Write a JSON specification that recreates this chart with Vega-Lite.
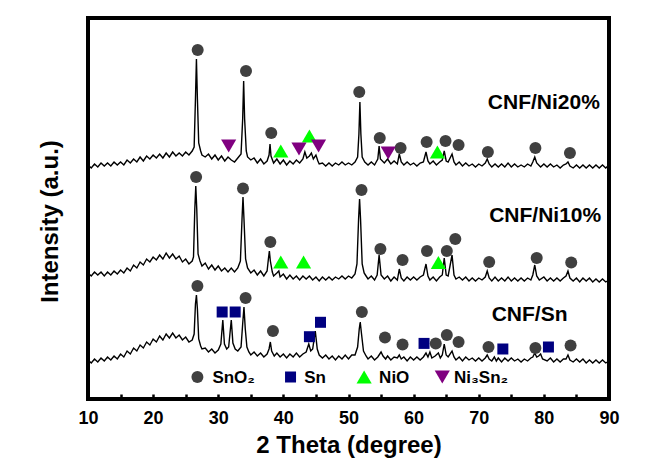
{
  "$schema": "https://vega.github.io/schema/vega-lite/v6.json",
  "width": 521,
  "height": 381,
  "autosize": "none",
  "padding": {"left": 88, "top": 18, "right": 60, "bottom": 74},
  "background": "white",
  "config": {
    "view": {"stroke": "#000", "strokeWidth": 4},
    "font": "Liberation Sans"
  },
  "datasets": {
    "markers": [
        {"x":26.84,"v":349,"p":"SnO2"},{"x":34.26,"v":328,"p":"SnO2"},{"x":38.14,"v":266,"p":"SnO2"},{"x":51.65,"v":307,"p":"SnO2"},{"x":54.8,"v":261,"p":"SnO2"},{"x":58.0,"v":251,"p":"SnO2"},
        {"x":62.0,"v":257,"p":"SnO2"},{"x":64.9,"v":258,"p":"SnO2"},{"x":66.9,"v":254,"p":"SnO2"},{"x":71.4,"v":247,"p":"SnO2"},{"x":78.7,"v":251,"p":"SnO2"},{"x":84.0,"v":246,"p":"SnO2"},
        {"x":31.6,"v":253,"p":"Ni3Sn2"},{"x":42.4,"v":250,"p":"Ni3Sn2"},{"x":45.4,"v":253,"p":"Ni3Sn2"},{"x":56.1,"v":246,"p":"Ni3Sn2"},
        {"x":39.6,"v":248,"p":"NiO"},{"x":44.0,"v":263,"p":"NiO"},{"x":63.65,"v":247,"p":"NiO"},
        {"x":26.6,"v":222,"p":"SnO2"},{"x":33.8,"v":210.5,"p":"SnO2"},{"x":38.0,"v":157,"p":"SnO2"},{"x":52.0,"v":209,"p":"SnO2"},{"x":54.9,"v":150,"p":"SnO2"},{"x":58.3,"v":139,"p":"SnO2"},
        {"x":62.05,"v":148,"p":"SnO2"},{"x":65.1,"v":148,"p":"SnO2"},{"x":66.4,"v":160,"p":"SnO2"},{"x":71.6,"v":137,"p":"SnO2"},{"x":78.9,"v":141,"p":"SnO2"},{"x":84.2,"v":136.5,"p":"SnO2"},
        {"x":39.6,"v":137,"p":"NiO"},{"x":43.1,"v":137,"p":"NiO"},{"x":63.8,"v":136.5,"p":"NiO"},
        {"x":26.8,"v":113,"p":"SnO2"},{"x":34.2,"v":101,"p":"SnO2"},{"x":38.4,"v":68,"p":"SnO2"},{"x":52.05,"v":87,"p":"SnO2"},{"x":55.6,"v":61.5,"p":"SnO2"},{"x":58.3,"v":54.5,"p":"SnO2"},
        {"x":63.4,"v":55.6,"p":"SnO2"},{"x":65.1,"v":64,"p":"SnO2"},{"x":66.9,"v":57,"p":"SnO2"},{"x":71.5,"v":52,"p":"SnO2"},{"x":78.7,"v":51,"p":"SnO2"},{"x":84.1,"v":53.5,"p":"SnO2"},
        {"x":30.6,"v":87,"p":"Sn"},{"x":32.6,"v":87,"p":"Sn"},{"x":44.0,"v":62.3,"p":"Sn"},{"x":45.7,"v":76.7,"p":"Sn"},{"x":61.6,"v":55.6,"p":"Sn"},{"x":73.7,"v":50,"p":"Sn"},{"x":80.7,"v":52,"p":"Sn"},
        {"x":26.8,"v":22,"p":"SnO2"},{"x":41.1,"v":22,"p":"Sn"},{"x":52.4,"v":22,"p":"NiO"},{"x":64.4,"v":22,"p":"Ni3Sn2"}
    ]
  },
  "encoding": {
    "x": {"field": "x", "type": "quantitative", "scale": {"domain": [10, 90], "nice": false, "zero": false},
      "axis": {"values": [10,15,20,25,30,35,40,45,50,55,60,65,70,75,80,85,90],
        "labelExpr": "datum.value % 10 === 0 ? datum.label : ''",
        "labelFlush": false, "labelOverlap": false, "grid": false, "domain": false,
        "tickSize": -5, "tickWidth": 2.5, "tickColor": "#000",
        "labelFont": "Liberation Sans", "labelFontWeight": "bold", "labelFontSize": 18, "labelColor": "#000", "labelPadding": 15,
        "title": "2 Theta (degree)", "titleFont": "Liberation Sans", "titleFontWeight": "bold", "titleFontSize": 24, "titleColor": "#000", "titlePadding": 6}},
    "y": {"field": "v", "type": "quantitative", "scale": {"domain": [0, 381], "nice": false, "zero": false},
      "axis": {"labels": false, "ticks": false, "domain": false, "grid": false,
        "title": "Intensity (a.u.)", "titleFont": "Liberation Sans", "titleFontWeight": "bold", "titleFontSize": 24, "titleColor": "#000", "titlePadding": 26, "titleY": 203}}
  },
  "layer": [
    {
      "data": {"values": [
        {"x":10,"v":234},{"x":10.5,"v":231},{"x":11,"v":235},{"x":11.5,"v":232},{"x":12,"v":236},{"x":12.5,"v":233},{"x":13,"v":236},{"x":13.5,"v":233},{"x":14,"v":237},{"x":14.5,"v":234},
        {"x":15,"v":237},{"x":15.5,"v":234},{"x":16,"v":239},{"x":16.5,"v":236},{"x":17,"v":240},{"x":17.5,"v":237},{"x":18,"v":242},{"x":18.5,"v":238},{"x":19,"v":243},{"x":19.5,"v":240},
        {"x":20,"v":244},{"x":20.5,"v":241},{"x":21,"v":245},{"x":21.5,"v":241},{"x":22,"v":246},{"x":22.5,"v":242},{"x":23,"v":247},{"x":23.5,"v":243},{"x":24,"v":246},{"x":24.5,"v":243},
        {"x":25,"v":247},{"x":25.5,"v":244},{"x":26,"v":248},{"x":26.3,"v":252},{"x":26.5,"v":300},{"x":26.65,"v":340},{"x":26.8,"v":300},{"x":27,"v":256},{"x":27.3,"v":248},{"x":27.5,"v":244},
        {"x":28,"v":242},{"x":28.5,"v":245},{"x":29,"v":240},{"x":29.5,"v":244},{"x":30,"v":239},{"x":30.5,"v":243},{"x":31,"v":238},{"x":31.5,"v":242},{"x":32,"v":239},{"x":32.5,"v":237},
        {"x":33,"v":241},{"x":33.5,"v":245},{"x":33.75,"v":280},{"x":33.9,"v":318},{"x":34.05,"v":280},{"x":34.3,"v":248},{"x":34.5,"v":242},{"x":35,"v":239},{"x":35.5,"v":241},{"x":36,"v":236},
        {"x":36.5,"v":240},{"x":37,"v":235},{"x":37.5,"v":238},{"x":37.8,"v":244},{"x":37.95,"v":255},{"x":38.1,"v":243},{"x":38.5,"v":236},{"x":39,"v":240},{"x":39.5,"v":235},{"x":40,"v":239},
        {"x":40.5,"v":234},{"x":41,"v":238},{"x":41.5,"v":235},{"x":42,"v":239},{"x":42.5,"v":236},{"x":43,"v":240},{"x":43.3,"v":247},{"x":43.6,"v":241},{"x":44,"v":243},{"x":44.3,"v":246},
        {"x":44.6,"v":240},{"x":45,"v":244},{"x":45.3,"v":238},{"x":45.5,"v":235},{"x":46,"v":236},{"x":46.5,"v":233},{"x":47,"v":236},{"x":47.5,"v":233},{"x":48,"v":236},{"x":48.5,"v":234},
        {"x":49,"v":237},{"x":49.5,"v":234},{"x":50,"v":236},{"x":50.5,"v":234},{"x":51,"v":237},{"x":51.4,"v":242},{"x":51.6,"v":265},{"x":51.75,"v":297},{"x":51.9,"v":265},{"x":52.1,"v":242},
        {"x":52.5,"v":237},{"x":53,"v":234},{"x":53.5,"v":237},{"x":54,"v":234},{"x":54.5,"v":240},{"x":54.7,"v":253},{"x":54.9,"v":240},{"x":55.5,"v":236},{"x":56,"v":240},{"x":56.5,"v":235},
        {"x":57,"v":238},{"x":57.5,"v":235},{"x":57.8,"v":245},{"x":58.1,"v":237},{"x":58.5,"v":234},{"x":59,"v":237},{"x":59.5,"v":234},{"x":60,"v":236},{"x":60.5,"v":233},{"x":61,"v":236},
        {"x":61.5,"v":237},{"x":61.9,"v":247},{"x":62.2,"v":238},{"x":62.5,"v":235},{"x":63,"v":238},{"x":63.5,"v":234},{"x":64,"v":237},{"x":64.4,"v":239},{"x":64.7,"v":248},{"x":65,"v":238},
        {"x":65.3,"v":237},{"x":65.9,"v":245},{"x":66.2,"v":237},{"x":66.5,"v":234},{"x":67,"v":237},{"x":67.5,"v":233},{"x":68,"v":236},{"x":68.5,"v":233},{"x":69,"v":235},{"x":69.5,"v":232},
        {"x":70,"v":235},{"x":70.5,"v":233},{"x":71,"v":236},{"x":71.3,"v":240},{"x":71.6,"v":235},{"x":72,"v":232},{"x":72.5,"v":235},{"x":73,"v":232},{"x":73.5,"v":235},{"x":74,"v":232},
        {"x":74.5,"v":236},{"x":75,"v":232},{"x":75.5,"v":235},{"x":76,"v":232},{"x":76.5,"v":234},{"x":77,"v":232},{"x":77.5,"v":235},{"x":78,"v":233},{"x":78.3,"v":237},{"x":78.6,"v":242},
        {"x":78.9,"v":236},{"x":79.5,"v":232},{"x":80,"v":235},{"x":80.5,"v":232},{"x":81,"v":235},{"x":81.5,"v":232},{"x":82,"v":234},{"x":82.5,"v":231},{"x":83,"v":234},{"x":83.4,"v":235},
        {"x":83.7,"v":237},{"x":84,"v":233},{"x":84.5,"v":231},{"x":85,"v":234},{"x":85.5,"v":231},{"x":86,"v":234},{"x":86.5,"v":231},{"x":87,"v":234},{"x":87.5,"v":231},{"x":88,"v":234},
        {"x":88.5,"v":231},{"x":89,"v":234},{"x":89.5,"v":231},{"x":90,"v":234}
      ]},
      "mark": {"type": "line", "color": "#000", "strokeWidth": 1.4}
    },
    {
      "data": {"values": [
        {"x":10,"v":126},{"x":10.5,"v":123},{"x":11,"v":127},{"x":11.5,"v":124},{"x":12,"v":127},{"x":12.5,"v":123},{"x":13,"v":127},{"x":13.5,"v":124},{"x":14,"v":128},{"x":14.5,"v":125},
        {"x":15,"v":129},{"x":15.5,"v":126},{"x":16,"v":131},{"x":16.5,"v":128},{"x":17,"v":134},{"x":17.5,"v":131},{"x":18,"v":137},{"x":18.5,"v":134},{"x":19,"v":140},{"x":19.5,"v":137},
        {"x":20,"v":142},{"x":20.5,"v":139},{"x":21,"v":144},{"x":21.5,"v":140},{"x":22,"v":146},{"x":22.5,"v":141},{"x":23,"v":145},{"x":23.5,"v":140},{"x":24,"v":143},{"x":24.5,"v":137},
        {"x":25,"v":140},{"x":25.5,"v":135},{"x":26,"v":138},{"x":26.2,"v":142},{"x":26.4,"v":190},{"x":26.55,"v":213},{"x":26.7,"v":190},{"x":26.9,"v":145},{"x":27.2,"v":138},{"x":27.5,"v":133},
        {"x":28,"v":136},{"x":28.5,"v":130},{"x":29,"v":134},{"x":29.5,"v":129},{"x":30,"v":133},{"x":30.5,"v":128},{"x":31,"v":131},{"x":31.5,"v":127},{"x":32,"v":131},{"x":32.5,"v":127},
        {"x":33,"v":131},{"x":33.4,"v":138},{"x":33.65,"v":180},{"x":33.8,"v":202},{"x":33.95,"v":180},{"x":34.2,"v":140},{"x":34.5,"v":131},{"x":35,"v":126},{"x":35.5,"v":129},{"x":36,"v":124},
        {"x":36.5,"v":128},{"x":37,"v":123},{"x":37.5,"v":128},{"x":37.7,"v":140},{"x":37.85,"v":148},{"x":38,"v":138},{"x":38.3,"v":127},{"x":38.5,"v":123},{"x":39,"v":126},{"x":39.3,"v":128},
        {"x":39.5,"v":122},{"x":40,"v":125},{"x":40.5,"v":120},{"x":41,"v":124},{"x":41.5,"v":120},{"x":42,"v":123},{"x":42.5,"v":119},{"x":43,"v":123},{"x":43.5,"v":120},{"x":44,"v":123},
        {"x":44.5,"v":119},{"x":45,"v":122},{"x":45.5,"v":118},{"x":46,"v":122},{"x":46.5,"v":119},{"x":47,"v":122},{"x":47.5,"v":119},{"x":48,"v":122},{"x":48.5,"v":120},{"x":49,"v":123},
        {"x":49.5,"v":120},{"x":50,"v":123},{"x":50.5,"v":121},{"x":51,"v":125},{"x":51.3,"v":135},{"x":51.55,"v":180},{"x":51.7,"v":200},{"x":51.85,"v":180},{"x":52.1,"v":135},{"x":52.4,"v":126},
        {"x":52.7,"v":123},{"x":53,"v":120},{"x":53.5,"v":123},{"x":54,"v":119},{"x":54.4,"v":124},{"x":54.7,"v":144},{"x":55,"v":124},{"x":55.5,"v":120},{"x":56,"v":123},{"x":56.5,"v":118},
        {"x":57,"v":122},{"x":57.5,"v":119},{"x":57.8,"v":130},{"x":58.1,"v":121},{"x":58.5,"v":118},{"x":59,"v":122},{"x":59.5,"v":119},{"x":60,"v":122},{"x":60.5,"v":119},{"x":61,"v":122},
        {"x":61.5,"v":124},{"x":61.9,"v":135},{"x":62.2,"v":123},{"x":62.5,"v":119},{"x":63,"v":122},{"x":63.5,"v":118},{"x":64,"v":122},{"x":64.4,"v":124},{"x":64.7,"v":141},{"x":65,"v":124},
        {"x":65.3,"v":123},{"x":65.9,"v":144},{"x":66.2,"v":124},{"x":66.5,"v":120},{"x":67,"v":122},{"x":67.5,"v":119},{"x":68,"v":122},{"x":68.5,"v":118},{"x":69,"v":121},{"x":69.5,"v":118},
        {"x":70,"v":121},{"x":70.5,"v":119},{"x":71,"v":122},{"x":71.3,"v":128},{"x":71.6,"v":121},{"x":72,"v":118},{"x":72.5,"v":122},{"x":73,"v":118},{"x":73.5,"v":121},{"x":74,"v":118},
        {"x":74.5,"v":122},{"x":75,"v":118},{"x":75.5,"v":121},{"x":76,"v":118},{"x":76.5,"v":121},{"x":77,"v":118},{"x":77.5,"v":121},{"x":78,"v":119},{"x":78.3,"v":124},{"x":78.6,"v":134},
        {"x":78.9,"v":123},{"x":79.3,"v":119},{"x":80,"v":122},{"x":80.5,"v":118},{"x":81,"v":121},{"x":81.5,"v":118},{"x":82,"v":121},{"x":82.5,"v":118},{"x":83,"v":121},{"x":83.4,"v":123},
        {"x":83.7,"v":128},{"x":84,"v":121},{"x":84.5,"v":118},{"x":85,"v":121},{"x":85.5,"v":117},{"x":86,"v":121},{"x":86.5,"v":118},{"x":87,"v":121},{"x":87.5,"v":117},{"x":88,"v":120},
        {"x":88.5,"v":117},{"x":89,"v":120},{"x":89.5,"v":117},{"x":90,"v":119}
      ]},
      "mark": {"type": "line", "color": "#000", "strokeWidth": 1.4}
    },
    {
      "data": {"values": [
        {"x":10,"v":39},{"x":10.5,"v":36},{"x":11,"v":40},{"x":11.5,"v":37},{"x":12,"v":41},{"x":12.5,"v":38},{"x":13,"v":42},{"x":13.5,"v":39},{"x":14,"v":43},{"x":14.5,"v":40},
        {"x":15,"v":45},{"x":15.5,"v":42},{"x":16,"v":48},{"x":16.5,"v":45},{"x":17,"v":51},{"x":17.5,"v":48},{"x":18,"v":54},{"x":18.5,"v":51},{"x":19,"v":57},{"x":19.5,"v":54},
        {"x":20,"v":60},{"x":20.5,"v":57},{"x":21,"v":63},{"x":21.5,"v":59},{"x":22,"v":65},{"x":22.5,"v":61},{"x":23,"v":66},{"x":23.5,"v":61},{"x":24,"v":64},{"x":24.5,"v":59},
        {"x":25,"v":62},{"x":25.5,"v":57},{"x":26,"v":59},{"x":26.3,"v":65},{"x":26.5,"v":95},{"x":26.65,"v":104},{"x":26.8,"v":90},{"x":27,"v":60},{"x":27.3,"v":53},{"x":27.5,"v":50},
        {"x":28,"v":51},{"x":28.5,"v":47},{"x":29,"v":50},{"x":29.5,"v":46},{"x":30,"v":49},{"x":30.4,"v":55},{"x":30.7,"v":79},{"x":30.95,"v":55},{"x":31.3,"v":50},{"x":31.6,"v":52},
        {"x":32,"v":79},{"x":32.25,"v":56},{"x":32.6,"v":50},{"x":33,"v":48},{"x":33.5,"v":52},{"x":33.75,"v":75},{"x":33.95,"v":92},{"x":34.15,"v":70},{"x":34.4,"v":52},{"x":34.7,"v":47},
        {"x":35,"v":44},{"x":35.5,"v":47},{"x":36,"v":43},{"x":36.5,"v":46},{"x":37,"v":42},{"x":37.5,"v":45},{"x":37.8,"v":50},{"x":38,"v":57},{"x":38.2,"v":48},{"x":38.6,"v":43},
        {"x":39,"v":46},{"x":39.5,"v":42},{"x":40,"v":45},{"x":40.5,"v":41},{"x":41,"v":45},{"x":41.5,"v":42},{"x":42,"v":46},{"x":42.5,"v":42},{"x":43,"v":45},{"x":43.5,"v":47},
        {"x":43.9,"v":55},{"x":44.2,"v":48},{"x":44.5,"v":50},{"x":44.9,"v":68},{"x":45.2,"v":50},{"x":45.5,"v":44},{"x":46,"v":41},{"x":46.5,"v":44},{"x":47,"v":40},{"x":47.5,"v":43},
        {"x":48,"v":39},{"x":48.5,"v":43},{"x":49,"v":40},{"x":49.5,"v":44},{"x":50,"v":40},{"x":50.5,"v":44},{"x":51,"v":44},{"x":51.4,"v":52},{"x":51.65,"v":70},{"x":51.8,"v":77},
        {"x":52,"v":65},{"x":52.3,"v":48},{"x":52.7,"v":43},{"x":53,"v":40},{"x":53.5,"v":43},{"x":54,"v":39},{"x":54.5,"v":42},{"x":55,"v":47},{"x":55.3,"v":43},{"x":55.7,"v":40},
        {"x":56,"v":43},{"x":56.5,"v":39},{"x":57,"v":42},{"x":57.5,"v":41},{"x":57.8,"v":44},{"x":58.1,"v":40},{"x":58.5,"v":42},{"x":59,"v":38},{"x":59.5,"v":42},{"x":60,"v":39},
        {"x":60.5,"v":42},{"x":61,"v":39},{"x":61.5,"v":42},{"x":61.9,"v":46},{"x":62.2,"v":42},{"x":62.5,"v":47},{"x":62.8,"v":41},{"x":63.3,"v":43},{"x":63.8,"v":46},{"x":64.1,"v":41},
        {"x":64.4,"v":44},{"x":64.7,"v":55},{"x":65,"v":44},{"x":65.3,"v":42},{"x":65.9,"v":48},{"x":66.2,"v":42},{"x":66.5,"v":39},{"x":67,"v":42},{"x":67.5,"v":38},{"x":68,"v":42},
        {"x":68.5,"v":39},{"x":69,"v":41},{"x":69.5,"v":38},{"x":70,"v":41},{"x":70.5,"v":38},{"x":71,"v":41},{"x":71.3,"v":44},{"x":71.6,"v":40},{"x":72,"v":38},{"x":72.4,"v":42},
        {"x":72.7,"v":38},{"x":73,"v":41},{"x":73.5,"v":37},{"x":74,"v":41},{"x":74.5,"v":38},{"x":75,"v":41},{"x":75.5,"v":38},{"x":76,"v":40},{"x":76.5,"v":37},{"x":77,"v":40},
        {"x":77.5,"v":38},{"x":78,"v":41},{"x":78.3,"v":42},{"x":78.6,"v":46},{"x":78.9,"v":42},{"x":79.2,"v":43},{"x":79.5,"v":45},{"x":79.8,"v":40},{"x":80.5,"v":38},{"x":81,"v":41},
        {"x":81.5,"v":37},{"x":82,"v":40},{"x":82.5,"v":37},{"x":83,"v":40},{"x":83.4,"v":40},{"x":83.7,"v":44},{"x":84,"v":39},{"x":84.5,"v":37},{"x":85,"v":40},{"x":85.5,"v":37},
        {"x":86,"v":40},{"x":86.5,"v":36},{"x":87,"v":39},{"x":87.5,"v":36},{"x":88,"v":39},{"x":88.5,"v":36},{"x":89,"v":39},{"x":89.5,"v":36},{"x":90,"v":38}
      ]},
      "mark": {"type": "line", "color": "#000", "strokeWidth": 1.4}
    },
    {
      "data": {"name": "markers"},
      "transform": [{"filter": "datum.p === 'SnO2'"}],
      "mark": {"type": "point", "shape": "circle", "filled": true, "opacity": 1, "color": "#404040", "size": 144}
    },
    {
      "data": {"name": "markers"},
      "transform": [{"filter": "datum.p === 'Sn'"}],
      "mark": {"type": "point", "shape": "square", "filled": true, "opacity": 1, "color": "#000080", "size": 121}
    },
    {
      "data": {"name": "markers"},
      "transform": [{"filter": "datum.p === 'NiO'"}],
      "mark": {"type": "point", "shape": "triangle-up", "filled": true, "opacity": 1, "color": "#00ff00", "size": 230}
    },
    {
      "data": {"name": "markers"},
      "transform": [{"filter": "datum.p === 'Ni3Sn2'"}],
      "mark": {"type": "point", "shape": "triangle-down", "filled": true, "opacity": 1, "color": "#800080", "size": 230}
    },
    {
      "data": {"values": [
        {"x":80.0,"v":296.5,"t":"CNF/Ni20%"},
        {"x":80.2,"v":183,"t":"CNF/Ni10%"},
        {"x":77.8,"v":84.4,"t":"CNF/Sn"}
      ]},
      "mark": {"type": "text", "font": "Liberation Sans", "fontWeight": "bold", "fontSize": 21, "color": "#000", "align": "center", "baseline": "middle"},
      "encoding": {"text": {"field": "t"}}
    },
    {
      "data": {"values": [
        {"x":29.1,"v":21,"t":"SnO₂"},
        {"x":43.2,"v":21,"t":"Sn"},
        {"x":54.7,"v":21,"t":"NiO"},
        {"x":66.2,"v":21,"t":"Ni₃Sn₂"}
      ]},
      "mark": {"type": "text", "font": "Liberation Sans", "fontWeight": "bold", "fontSize": 17, "color": "#000", "align": "left", "baseline": "middle"},
      "encoding": {"text": {"field": "t"}}
    }
  ]
}
